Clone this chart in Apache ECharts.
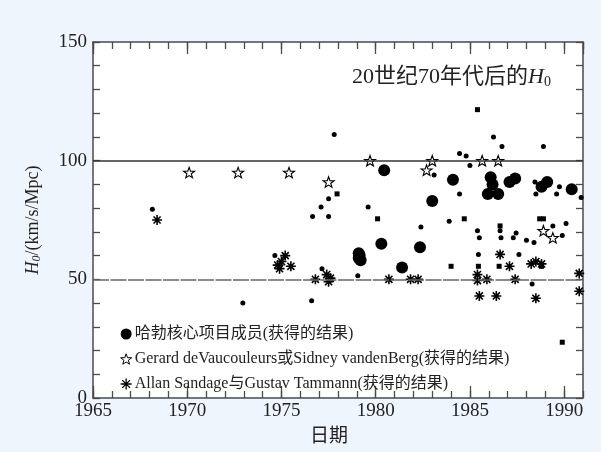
<!DOCTYPE html>
<html><head><meta charset="utf-8">
<script src="https://cdn.jsdelivr.net/npm/echarts@6/dist/echarts.min.js"></script>
<style>html,body{margin:0;padding:0;background:#eef5fc;}#c{width:601px;height:452px;}</style>
</head><body><div id="c"></div>
<script>
// ---- data (year, H0 in km/s/Mpc) ----
var xTickLabels = [1965, 1970, 1975, 1980, 1985, 1990];
var yTickLabels = [0, 50, 100, 150];
var seriesNames = ['哈勃核心项目成员(获得的结果)', 'Gerard deVaucouleurs或Sidney vandenBerg(获得的结果)', 'Allan Sandage与Gustav Tammann(获得的结果)'];
var hubbleKey = [[1979.1,61],[1979.15,60],[1979.1,59],[1979.2,58],[1980.3,65],[1980.45,96],[1981.4,55],[1982.35,63.5],[1983.0,83],[1984.1,92],[1985.95,86],[1986.1,93],[1986.2,90],[1986.5,86],[1987.1,91],[1987.4,92.5],[1988.8,89],[1989.1,91],[1990.4,88]];
var vaucouleurs = [[1970.1,95],[1972.7,95],[1975.4,95],[1977.5,91],[1979.7,100],[1982.7,96],[1983.0,100],[1985.65,100],[1986.5,100],[1988.9,70.5],[1989.4,67.5]];
var sandage = [[1968.4,75],[1974.8,56],[1975.0,57.5],[1975.2,60],[1975.5,55.5],[1974.9,54.5],[1976.8,50],[1977.4,52],[1977.5,49],[1977.6,50.5],[1980.7,50],[1981.85,50],[1982.25,50],[1985.4,52],[1985.4,49.5],[1985.9,50],[1985.5,43],[1986.4,43],[1986.6,60.5],[1987.1,55.5],[1987.4,50],[1988.25,56.5],[1988.5,57.5],[1988.8,56.5],[1988.5,42],[1990.8,52.5],[1990.8,45]];
var otherDots = [[1968.15,79.5],[1972.95,40],[1974.65,60],[1976.6,41],[1977.15,54.5],[1976.65,76.5],[1977.1,80.5],[1977.5,84],[1977.5,76.5],[1977.8,111],[1979.05,51.5],[1979.6,80.5],[1982.4,72],[1983.1,94],[1983.9,74.5],[1984.45,103],[1984.8,102],[1985.0,98],[1984.45,86],[1985.4,70.5],[1985.5,67.5],[1985.45,60.5],[1986.25,110],[1986.7,106],[1986.6,70.5],[1986.65,67.5],[1987.45,69.5],[1987.3,67.5],[1987.6,60.5],[1988.0,66.5],[1988.4,65.5],[1988.3,48],[1988.45,91],[1988.5,86],[1988.9,106],[1989.4,72.5],[1989.75,89],[1989.6,86],[1989.9,68.5],[1990.1,73.5],[1990.9,84.5]];
var otherSquares = [[1977.95,86],[1980.1,75.5],[1984.7,75.5],[1985.4,121.5],[1984.0,55.5],[1985.45,55.5],[1986.55,55.5],[1986.6,72.5],[1988.7,75.5],[1988.9,75.5],[1988.8,55.5],[1989.9,23.5]];
var refLines = [100, 50];

var SERIF = "'Liberation Serif','Noto Sans CJK SC',serif";
var AX = '#4a4a4a';
var STAR = 'path://M0,-10L2.35,-3.24L9.51,-3.09L3.8,1.24L5.88,8.09L0,4.3L-5.88,8.09L-3.8,1.24L-9.51,-3.09L-2.35,-3.24Z';
var AST = 'path://M-5,0L5,0M0,-5L0,5M-3.54,-3.54L3.54,3.54M-3.54,3.54L3.54,-3.54';

function xAx(pos, interval, len, main) {
  return {
    type: 'value', min: 1965, max: 1991, interval: interval, position: pos,
    axisLine: {show: main, onZero: false, lineStyle: {color: AX, width: 1.5}},
    axisTick: {show: true, inside: true, length: len, lineStyle: {color: AX, width: 1.3}},
    axisLabel: {show: main && pos === 'bottom', showMaxLabel: false, fontFamily: SERIF, fontSize: 19, color: '#222', margin: 4,
      formatter: function (v) { return xTickLabels.indexOf(v) >= 0 ? String(v) : ''; }},
    splitLine: {show: false},
    name: (main && pos === 'bottom') ? '日期' : '',
    nameLocation: 'middle', nameGap: 30,
    nameTextStyle: {fontFamily: SERIF, fontSize: 19, color: '#222', padding: [0, 18, 0, 0]}
  };
}
function yAx(pos, main) {
  return {
    type: 'value', min: 0, max: 150, interval: 10, position: pos,
    axisLine: {show: true, onZero: false, lineStyle: {color: AX, width: 1.5}},
    axisTick: {show: true, inside: true, length: 7, lineStyle: {color: AX, width: 1.3}},
    axisLabel: {show: main, fontFamily: SERIF, fontSize: 19, color: '#222', margin: 6,
      formatter: function (v) { return yTickLabels.indexOf(v) >= 0 ? String(v) : ''; }},
    splitLine: {show: false},
    name: main ? '{h|H}{s|0}{t|/(km/s/Mpc)}' : '',
    nameLocation: 'middle', nameRotate: 90, nameGap: 50,
    nameTextStyle: {fontFamily: SERIF, fontSize: 18, color: '#222',
      rich: {h: {fontFamily: SERIF, fontStyle: 'italic', fontSize: 18, color: '#222'},
             s: {fontFamily: SERIF, fontStyle: 'italic', fontSize: 12, color: '#222', padding: [7, 0, 0, 0]},
             t: {fontFamily: SERIF, fontSize: 18, color: '#222'}}}
  };
}

var chart = echarts.init(document.getElementById('c'), null, {renderer: 'canvas'});
chart.setOption({
  backgroundColor: '#eef5fc',
  animation: false,
  title: {
    text: '{a|20世纪70年代后的}{h|H}{s|0}', left: 347, top: 61,
    textStyle: {fontWeight: 'normal', rich: {
      a: {fontFamily: SERIF, fontSize: 22, fontWeight: 'normal', color: '#222'},
      h: {fontFamily: SERIF, fontStyle: 'italic', fontWeight: 'normal', fontSize: 22, color: '#222'},
      s: {fontFamily: SERIF, fontSize: 14, fontWeight: 'normal', color: '#222', padding: [9, 0, 0, 0]}
    }}
  },
  grid: {left: 93, right: 18, top: 42, bottom: 52, show: true, backgroundColor: '#fff', borderWidth: 0},
  legend: {
    data: [
      {name: seriesNames[0]},
      {name: seriesNames[1], itemStyle: {borderWidth: 1}},
      {name: seriesNames[2], itemStyle: {borderWidth: 1.3}}
    ],
    orient: 'vertical', left: 115, top: 321, itemGap: 9,
    itemWidth: 11, itemHeight: 11,
    textStyle: {fontFamily: SERIF, fontSize: 16, color: '#222', padding: [0, 0, 0, -2]}
  },
  xAxis: [xAx('bottom', 5, 12, true), xAx('bottom', 1, 7, false), xAx('top', 5, 12, true), xAx('top', 1, 7, false)],
  yAxis: [yAx('left', true), yAx('right', false)],
  series: [
    {name: seriesNames[0], type: 'scatter', xAxisIndex: 0, yAxisIndex: 0, data: hubbleKey,
     symbol: 'circle', symbolSize: 12, itemStyle: {color: '#000', opacity: 1},
     markLine: {silent: true, symbol: 'none', label: {show: false},
       data: [{yAxis: refLines[0], lineStyle: {color: '#333', width: 1.5, type: 'solid'}},
              {yAxis: refLines[1], lineStyle: {color: '#666', width: 1.5, type: [16, 1.5]}}]}},
    {name: seriesNames[1], type: 'scatter', xAxisIndex: 0, yAxisIndex: 0, data: vaucouleurs,
     symbol: STAR, symbolKeepAspect: true, symbolSize: 11,
     itemStyle: {color: '#fff', borderColor: '#000', borderWidth: 1.1, opacity: 1}},
    {name: seriesNames[2], type: 'scatter', xAxisIndex: 0, yAxisIndex: 0, data: sandage,
     symbol: AST, symbolKeepAspect: true, symbolSize: 10,
     itemStyle: {color: '#000', borderColor: '#000', borderWidth: 1.6, opacity: 1}},
    {name: 'dots', type: 'scatter', xAxisIndex: 0, yAxisIndex: 0, data: otherDots,
     symbol: 'circle', symbolSize: 5, itemStyle: {color: '#000', opacity: 1}},
    {name: 'squares', type: 'scatter', xAxisIndex: 0, yAxisIndex: 0, data: otherSquares,
     symbol: 'rect', symbolSize: 5, itemStyle: {color: '#000', opacity: 1}}
  ]
});
</script></body></html>
